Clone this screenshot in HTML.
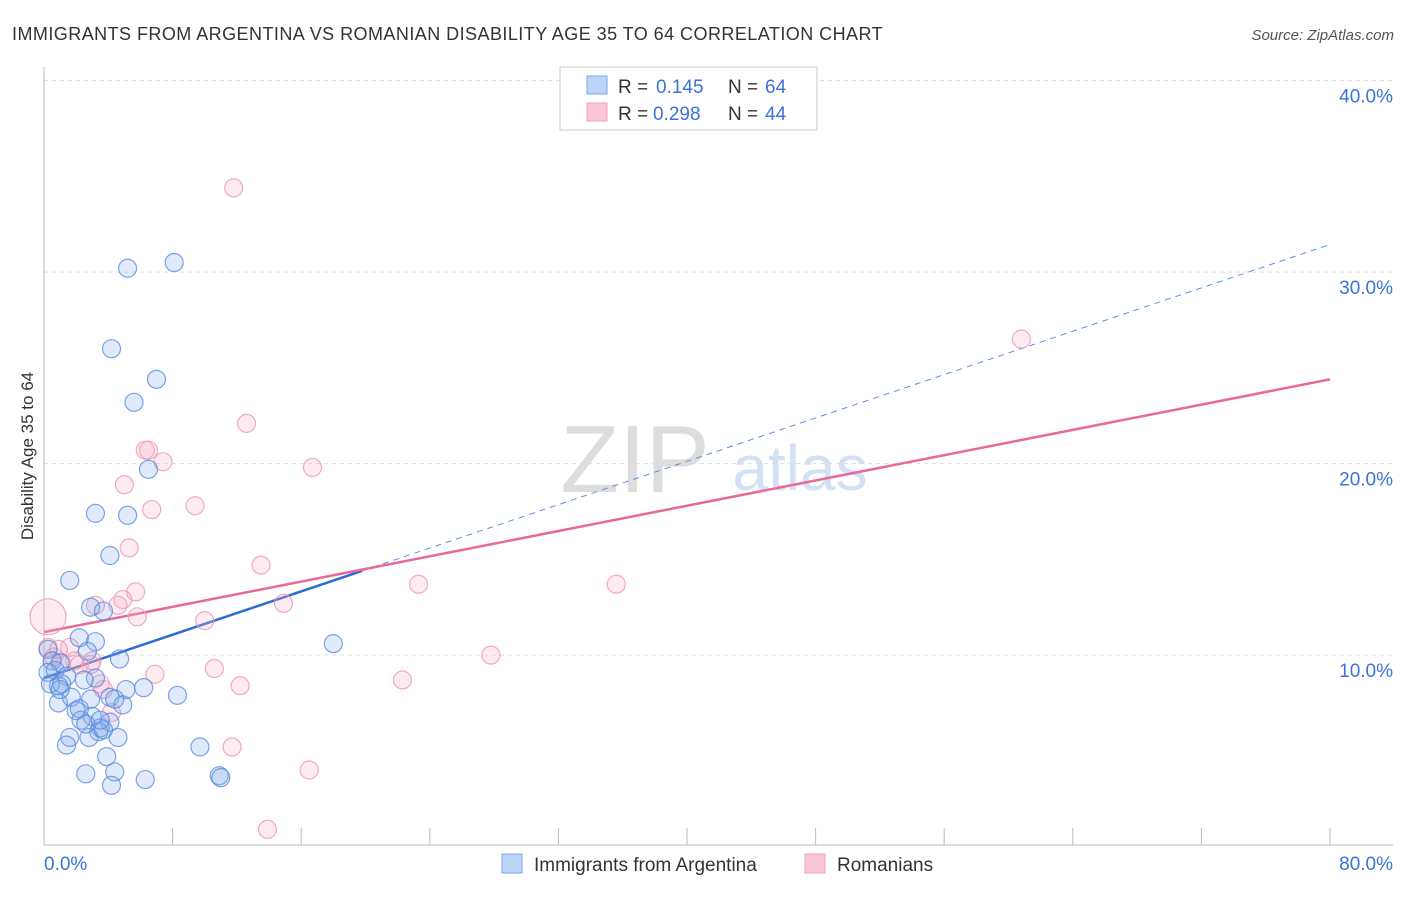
<!DOCTYPE html>
<html><head><meta charset="utf-8"><style>
body{margin:0;background:#fff;font-family:"Liberation Sans",sans-serif;}
svg text{font-family:"Liberation Sans",sans-serif;}
</style></head><body>
<svg id="chart" width="1406" height="892" xmlns="http://www.w3.org/2000/svg">
<text x="12" y="40" font-size="18" fill="#333" letter-spacing="0.45">IMMIGRANTS FROM ARGENTINA VS ROMANIAN DISABILITY AGE 35 TO 64 CORRELATION CHART</text>
<text x="1394" y="40" font-size="15" fill="#555" font-style="italic" text-anchor="end">Source: ZipAtlas.com</text>
<text x="0" y="0" transform="translate(33,456) rotate(-90)" font-size="17" fill="#333" text-anchor="middle">Disability Age 35 to 64</text>
<text x="635" y="492" font-size="96" fill="#ddd" font-family="Liberation Serif" text-anchor="middle">ZIP</text>
<text x="800" y="490" font-size="64" fill="#d3e1f5" text-anchor="middle">atlas</text>
<g id="grid"></g><g id="axes"></g><g id="trend"></g><g id="pts"></g>
<g>
<rect x="560" y="67" width="257" height="63" fill="#fff" stroke="#ccc"/>
<rect x="587" y="76" width="20" height="18" fill="#bcd4f7" stroke="#7aa6e8"/>
<rect x="587" y="103" width="20" height="18" fill="#fbc7d7" stroke="#f0a0b8"/>
<text x="618" y="93" font-size="19" fill="#333">R =</text>
<text x="656" y="93" font-size="19" fill="#3b72d9">0.145</text>
<text x="728" y="93" font-size="19" fill="#333">N =</text>
<text x="765" y="93" font-size="19" fill="#3b72d9">64</text>
<text x="618" y="120" font-size="19" fill="#333">R =</text>
<text x="653" y="120" font-size="19" fill="#3b72d9">0.298</text>
<text x="728" y="120" font-size="19" fill="#333">N =</text>
<text x="765" y="120" font-size="19" fill="#3b72d9">44</text>
</g>
<g>
<rect x="502" y="854" width="20" height="19" fill="#bcd4f7" stroke="#7aa6e8"/>
<text x="534" y="871" font-size="19" fill="#333">Immigrants from Argentina</text>
<rect x="805" y="854" width="20" height="19" fill="#fbc7d7" stroke="#f0a0b8"/>
<text x="837" y="871" font-size="19" fill="#333">Romanians</text>
</g>
</svg>
<script>
const yTicks=[10,20,30,40];
const xTickLabels=["0.0%","80.0%"];
const blueX=[5.2,8.1,4.2,7.0,5.6,6.5,3.2,5.2,4.1,1.6,2.9,3.7,2.2,3.2,2.7,4.7,18.0,0.25,0.5,1.0,0.25,0.7,1.4,0.4,0.9,1.1,3.2,2.5,5.1,6.2,8.3,4.1,4.9,0.9,1.7,2.0,2.2,3.0,2.3,4.1,3.5,3.4,4.6,2.8,1.6,1.4,9.7,3.9,2.6,4.4,6.3,4.2,10.9,11.0,3.7,2.6,1.0,3.5,4.4,2.9];
const blueY=[30.2,30.5,26.0,24.4,23.2,19.7,17.4,17.3,15.2,13.9,12.5,12.3,10.9,10.7,10.2,9.8,10.6,10.3,9.7,9.6,9.1,9.2,8.9,8.5,8.4,8.5,8.8,8.7,8.2,8.3,7.9,7.8,7.4,7.5,7.8,7.1,7.2,6.8,6.6,6.5,6.2,6.0,5.7,5.7,5.7,5.3,5.2,4.7,3.8,3.9,3.5,3.2,3.7,3.6,6.1,6.4,8.2,6.6,7.7,7.7];
const pinkX=[11.8,60.8,12.6,6.3,6.5,7.4,16.7,5.0,6.7,9.4,5.3,13.5,23.3,35.6,5.7,4.9,3.2,4.6,14.9,5.8,10.0,0.25,1.6,1.9,2.9,0.6,1.1,3.0,6.9,10.6,27.8,22.3,12.2,3.5,3.7,4.2,11.7,16.5,13.9,0.25,2.2,0.9];
const pinkY=[34.4,26.5,22.1,20.7,20.7,20.1,19.8,18.9,17.6,17.8,15.6,14.7,13.7,13.7,13.3,12.9,12.6,12.6,12.7,12.0,11.8,12.0,10.4,9.7,9.5,9.9,9.6,9.7,9.0,9.3,10.0,8.7,8.4,8.5,8.2,7.0,5.2,4.0,0.9,10.4,9.5,10.3];
const pinkR=[9,9,9,9,9,9,9,9,9,9,9,9,9,9,9,9,9,9,9,9,9,18,9,9,9,9,9,9,9,9,9,9,9,9,9,9,9,9,9,9,9,9];
const blueTrend=[8.8,0.283];
const pinkTrend=[11.2,0.165];
const X0=44,X1=1330,Y0=846.6,PPY=19.15;
const sx=v=>X0+v/80*(X1-X0), sy=v=>Y0-v*PPY;
const NS="http://www.w3.org/2000/svg";
function mk(tag,attrs,parent){const e=document.createElementNS(NS,tag);for(const k in attrs)e.setAttribute(k,attrs[k]);document.getElementById(parent).appendChild(e);return e;}
yTicks.forEach(t=>{
 const l=mk('line',{x1:X0,x2:1393,y1:sy(t),y2:sy(t),stroke:'#ddd','stroke-dasharray':'4,4'},'grid');
 
 
 const tx=mk('text',{x:1393,y:sy(t)+22,'font-size':19,fill:'#3b72d9','text-anchor':'end'},'grid');
 tx.textContent=t.toFixed(1)+'%';
 
 
});
const ax=mk('line',{x1:X0,x2:X0,y1:67,y2:845,stroke:'#bbb'},'axes');


const bx=mk('line',{x1:X0,x2:1393,y1:845,y2:845,stroke:'#bbb'},'axes');


for(let i=0;i<=10;i++){const v=i*8;
 const t=mk('line',{x1:sx(v),x2:sx(v),y1:828,y2:845,stroke:'#bbb'},'axes');
 
 }
const l0=mk('text',{x:44,y:870,'font-size':19,fill:'#3b72d9'},'axes');l0.textContent=xTickLabels[0];


const l1=mk('text',{x:1393,y:870,'font-size':19,fill:'#3b72d9','text-anchor':'end'},'axes');l1.textContent=xTickLabels[1];


const xb=Math.max(...blueX)+1.8;
const bt=mk('line',{x1:sx(0),y1:sy(blueTrend[0]),x2:sx(xb),y2:sy(blueTrend[0]+blueTrend[1]*xb),stroke:'#2a6bd6','stroke-width':2.5},'trend');


const bd=mk('line',{x1:sx(xb),y1:sy(blueTrend[0]+blueTrend[1]*xb),x2:sx(80),y2:sy(blueTrend[0]+blueTrend[1]*80),stroke:'#5b8fe0','stroke-width':1,'stroke-dasharray':'6,5'},'trend');


const pt=mk('line',{x1:sx(0),y1:sy(pinkTrend[0]),x2:sx(80),y2:sy(pinkTrend[0]+pinkTrend[1]*80),stroke:'#e8689a','stroke-width':2.5},'trend');


pinkX.forEach((x,i)=>{const c=mk('circle',{cx:sx(x),cy:sy(pinkY[i]),r:pinkR[i],fill:'rgba(248,175,200,0.25)',stroke:'rgba(236,150,180,0.8)','stroke-width':1.2},'pts');
 
 });
blueX.forEach((x,i)=>{const c=mk('circle',{cx:sx(x),cy:sy(blueY[i]),r:9,fill:'rgba(130,170,235,0.25)',stroke:'rgba(80,135,220,0.75)','stroke-width':1.2},'pts');
 
 });
</script>
</body></html>
